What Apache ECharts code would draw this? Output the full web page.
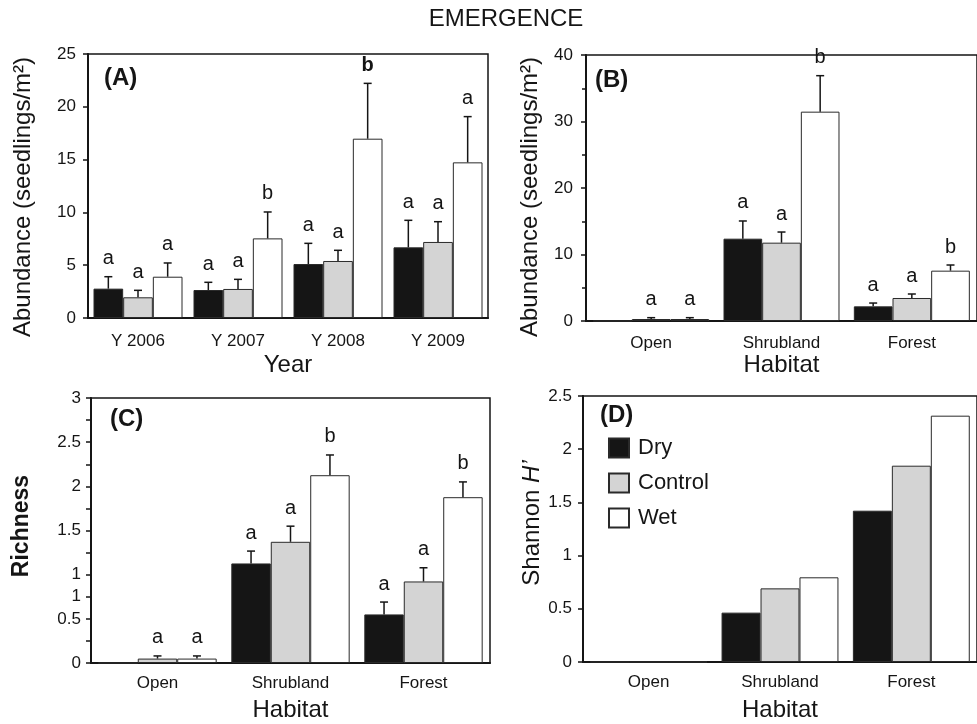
<!DOCTYPE html>
<html><head><meta charset="utf-8">
<script src="https://cdn.jsdelivr.net/npm/echarts@6/dist/echarts.min.js"></script>
<style>html,body{margin:0;padding:0;background:#fff}#c{width:977px;height:724px}</style>
</head><body><div id="c"></div>
<script>
const FONT = '"Liberation Sans", Arial, Helvetica, sans-serif';
const INK = '#151515';
const GAP = 0.11;

const treatments = ['Dry', 'Control', 'Wet'];
const yearCats = ['Y 2006', 'Y 2007', 'Y 2008', 'Y 2009'];
const habitatCats = ['Open', 'Shrubland', 'Forest'];

// (A) Abundance by year
const abYearDry = [2.78, 2.65, 5.11, 6.69];
const abYearDrySE = [1.13, 0.73, 1.96, 2.56];
const abYearControl = [1.96, 2.75, 5.40, 7.20];
const abYearControlSE = [0.66, 0.91, 1.01, 1.92];
const abYearWet = [3.91, 7.54, 16.98, 14.74];
const abYearWetSE = [1.30, 2.50, 5.24, 4.33];
const abYearLettersDry = ['a', 'a', 'a', 'a'];
const abYearLettersControl = ['a', 'a', 'a', 'a'];
const abYearLettersWet = ['a', 'b', 'b', 'a'];
const abYearBoldWet = [false, false, true, false];

// (B) Abundance by habitat
const abHabDry = [0, 12.38, 2.2];
const abHabDrySE = [0, 2.66, 0.5];
const abHabControl = [0.3, 11.78, 3.46];
const abHabControlSE = [0.2, 1.6, 0.6];
const abHabWet = [0.3, 31.48, 7.57];
const abHabWetSE = [0.2, 5.41, 0.85];
const abHabLettersDry = ['', 'a', 'a'];
const abHabLettersControl = ['a', 'a', 'a'];
const abHabLettersWet = ['a', 'b', 'b'];

// (C) Richness by habitat
const richDry = [0, 1.127, 0.55];
const richDrySE = [0, 0.14, 0.14];
const richControl = [0.05, 1.372, 0.923];
const richControlSE = [0.03, 0.177, 0.155];
const richWet = [0.05, 2.126, 1.877];
const richWetSE = [0.03, 0.229, 0.173];
const richLettersDry = ['', 'a', 'a'];
const richLettersControl = ['a', 'a', 'a'];
const richLettersWet = ['a', 'b', 'b'];
const richTickLabels = ['0', '', '0.5', '1', '1', '', '1.5', '', '2', '', '2.5', '', '3'];

// (D) Shannon H'
const shanDry = [0, 0.464, 1.422];
const shanControl = [0, 0.692, 1.845];
const shanWet = [0, 0.796, 2.315];

const colors = { Dry: '#151515', Control: '#d4d4d4', Wet: '#ffffff' };

function errRender(pos, seArr, letArr, boldArr) {
  return function (params, api) {
    const i = params.dataIndex;
    const cat = api.value(0), mean = api.value(1), se = seArr[i];
    const band = api.size([1, 0])[0];
    const bw = band * (1 - GAP) / 3;
    const base = api.coord([cat, mean]);
    const x = base[0] + (pos - 1) * bw;
    const top = api.coord([cat, mean + se])[1];
    const children = [];
    if (se > 0) {
      children.push({ type: 'line', shape: { x1: x, y1: base[1], x2: x, y2: top }, style: { stroke: INK, lineWidth: 1.5 } });
      children.push({ type: 'line', shape: { x1: x - 4, y1: top, x2: x + 4, y2: top }, style: { stroke: INK, lineWidth: 1.5 } });
    }
    const L = letArr ? letArr[i] : '';
    if (L) {
      children.push({ type: 'text', x: x, y: top - 18, style: { text: L, font: ((boldArr && boldArr[i]) ? 'bold ' : '') + '20px ' + FONT, fill: INK, textAlign: 'center', textVerticalAlign: 'middle' } });
    }
    return { type: 'group', children: children };
  };
}

const series = [];
function addPanel(idx, means, ses, letters, bolds) {
  means.forEach(function (m, k) {
    const name = treatments[k];
    series.push({
      type: 'bar', name: name, xAxisIndex: idx, yAxisIndex: idx,
      data: m, barGap: '0%', barCategoryGap: (GAP * 100) + '%',
      itemStyle: { color: colors[name], borderColor: '#2a2a2a', borderWidth: 1 },
      emphasis: { disabled: true }, animation: false
    });
  });
  if (ses) {
    means.forEach(function (m, k) {
      series.push({
        type: 'custom', name: 'err' + idx + '_' + k, xAxisIndex: idx, yAxisIndex: idx, z: 5,
        data: m.map(function (v, j) { return [j, v]; }),
        renderItem: errRender(k, ses[k], letters[k], bolds ? bolds[k] : null),
        animation: false, silent: true
      });
    });
  }
}
addPanel(0, [abYearDry, abYearControl, abYearWet], [abYearDrySE, abYearControlSE, abYearWetSE],
  [abYearLettersDry, abYearLettersControl, abYearLettersWet], [null, null, abYearBoldWet]);
addPanel(1, [abHabDry, abHabControl, abHabWet], [abHabDrySE, abHabControlSE, abHabWetSE],
  [abHabLettersDry, abHabLettersControl, abHabLettersWet]);
addPanel(2, [richDry, richControl, richWet], [richDrySE, richControlSE, richWetSE],
  [richLettersDry, richLettersControl, richLettersWet]);
addPanel(3, [shanDry, shanControl, shanWet], null, null);

const grids = [
  { left: 88, top: 54, width: 400, height: 264 },
  { left: 586, top: 55, width: 396, height: 266 },
  { left: 91, top: 398, width: 399, height: 265 },
  { left: 583, top: 396, width: 398, height: 266 }
].map(function (g) { return Object.assign({ show: true, borderColor: INK, borderWidth: 1.5, backgroundColor: 'transparent', containLabel: false }, g); });

function xAx(i, cats, name, gap, margin) {
  return {
    type: 'category', gridIndex: i, data: cats, name: name, nameLocation: 'middle', nameGap: gap,
    nameTextStyle: { fontFamily: FONT, fontSize: 24, color: INK },
    axisLine: { lineStyle: { color: INK, width: 2 } },
    axisTick: { alignWithLabel: true, length: 4, lineStyle: { color: INK, width: 1.5 } },
    axisLabel: { fontFamily: FONT, fontSize: 17, color: INK, margin: margin },
    splitLine: { show: false }
  };
}
function yAx(i, max, interval, margin, extra) {
  return Object.assign({
    type: 'value', gridIndex: i, min: 0, max: max, interval: interval,
    axisLine: { show: true, lineStyle: { color: INK, width: 2 } },
    axisTick: { show: true, length: 5, lineStyle: { color: INK, width: 1.5 } },
    axisLabel: { fontFamily: FONT, fontSize: 17, color: INK, margin: margin },
    splitLine: { show: false }
  }, extra || {});
}

const option = {
  animation: false,
  backgroundColor: '#fff',
  grid: grids,
  xAxis: [
    xAx(0, yearCats, 'Year', 35, 15),
    xAx(1, habitatCats, 'Habitat', 32, 14),
    xAx(2, habitatCats, 'Habitat', 35, 12),
    xAx(3, habitatCats, 'Habitat', 36, 12)
  ],
  yAxis: [
    yAx(0, 25, 5, 12),
    yAx(1, 40, 10, 13, { minorTick: { show: true, splitNumber: 2, length: 4, lineStyle: { color: INK, width: 1.5 } } }),
    yAx(2, 3, 0.25, 10, { axisLabel: { fontFamily: FONT, fontSize: 17, color: INK, margin: 10,
      formatter: function (v) { return richTickLabels[Math.round(v / 0.25)]; } } }),
    yAx(3, 2.5, 0.5, 11)
  ],
  legend: {
    data: treatments, orient: 'vertical', left: 603, top: 431, itemWidth: 20, itemHeight: 19, itemGap: 11,
    icon: 'rect', selectedMode: false,
    textStyle: { fontFamily: FONT, fontSize: 22, color: INK, lineHeight: 24, padding: [0, 0, 0, 4] }
  },
  graphic: [
    { type: 'text', x: 506, y: 19, style: { text: 'EMERGENCE', font: '24px ' + FONT, fill: INK, textAlign: 'center', textVerticalAlign: 'middle' } },
    { type: 'text', x: 104, y: 78, style: { text: '(A)', font: 'bold 24px ' + FONT, fill: INK, textAlign: 'left', textVerticalAlign: 'middle' } },
    { type: 'text', x: 595, y: 80, style: { text: '(B)', font: 'bold 24px ' + FONT, fill: INK, textAlign: 'left', textVerticalAlign: 'middle' } },
    { type: 'text', x: 110, y: 419, style: { text: '(C)', font: 'bold 24px ' + FONT, fill: INK, textAlign: 'left', textVerticalAlign: 'middle' } },
    { type: 'text', x: 600, y: 415, style: { text: '(D)', font: 'bold 24px ' + FONT, fill: INK, textAlign: 'left', textVerticalAlign: 'middle' } },
    { type: 'text', x: 23, y: 197, rotation: Math.PI / 2, style: { text: 'Abundance (seedlings/m²)', font: '24px ' + FONT, fill: INK, textAlign: 'center', textVerticalAlign: 'middle' } },
    { type: 'text', x: 530, y: 197, rotation: Math.PI / 2, style: { text: 'Abundance (seedlings/m²)', font: '24px ' + FONT, fill: INK, textAlign: 'center', textVerticalAlign: 'middle' } },
    { type: 'text', x: 22, y: 526, rotation: Math.PI / 2, style: { text: 'Richness', font: 'bold 23px ' + FONT, fill: INK, textAlign: 'center', textVerticalAlign: 'middle' } },
    { type: 'text', x: 532, y: 523, rotation: Math.PI / 2, style: { text: 'Shannon {i|H’}', font: '24px ' + FONT, fill: INK, textAlign: 'center', textVerticalAlign: 'middle',
      rich: { i: { fontStyle: 'italic', fontFamily: FONT, fontSize: 24, fill: INK } } } }
  ],
  series: series
};

const chart = echarts.init(document.getElementById('c'), null, { renderer: 'canvas' });
chart.setOption(option);
</script>
</body></html>
